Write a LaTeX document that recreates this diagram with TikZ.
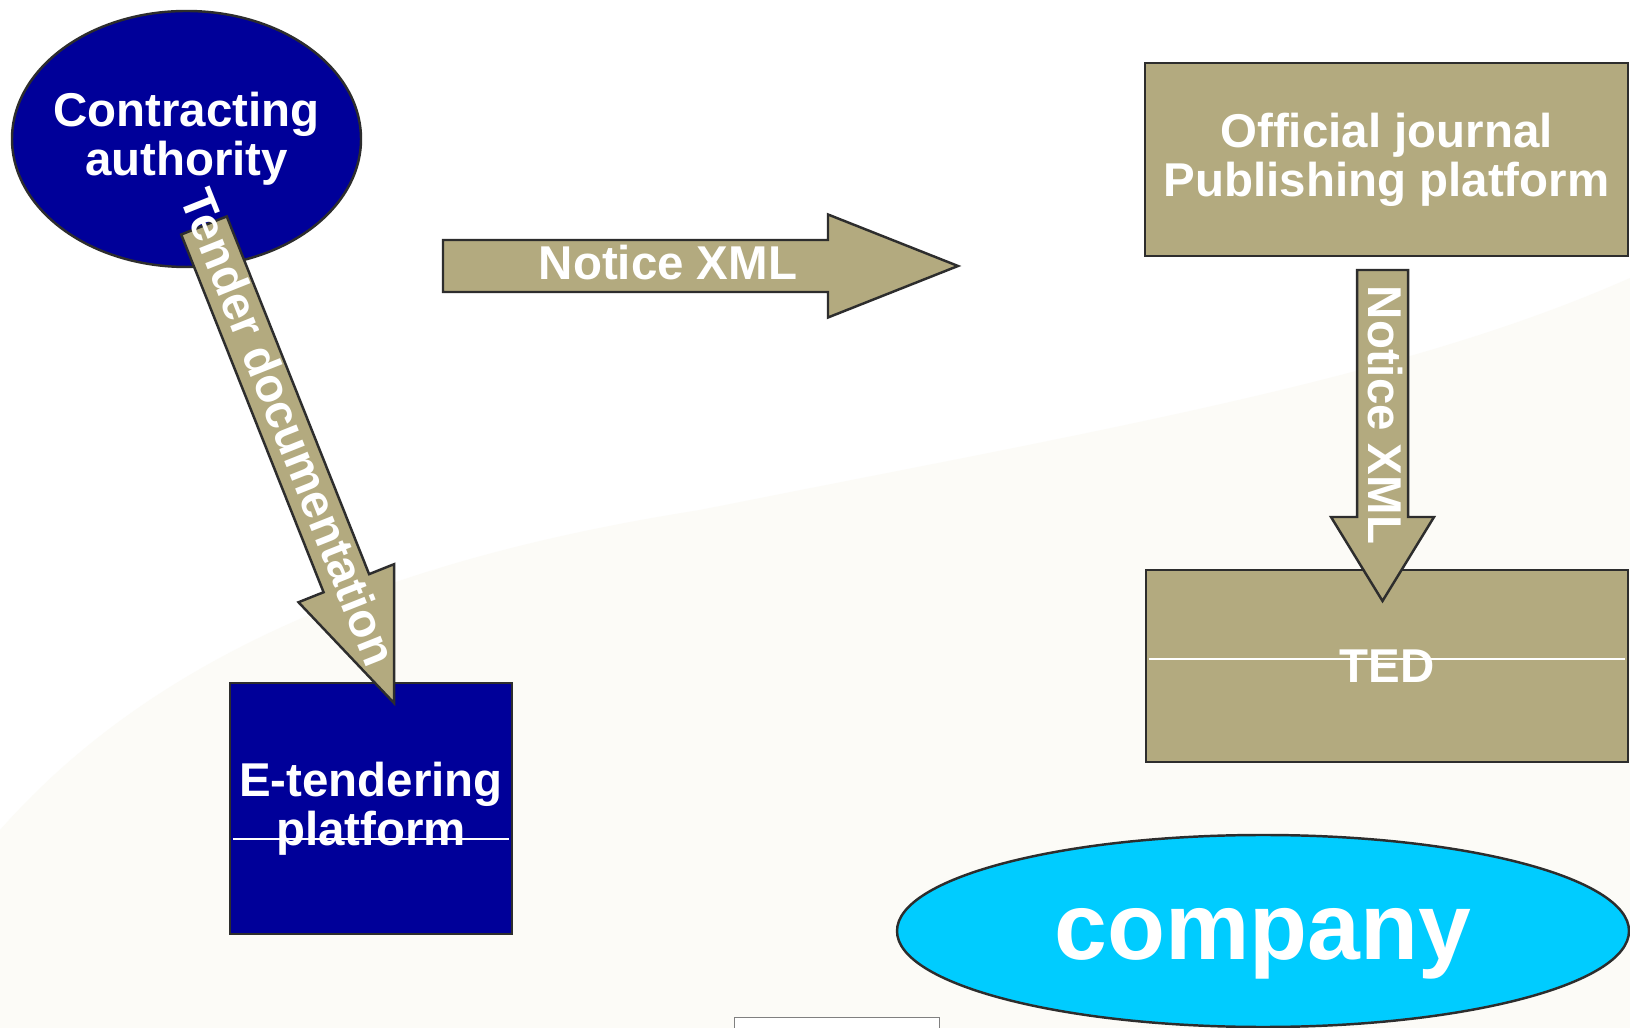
\documentclass[tikz,border=0pt]{standalone}
\usepackage{fontspec}
\setmainfont{Liberation Sans}
\usetikzlibrary{shapes.geometric}
\definecolor{navy}{RGB}{0,0,153}
\definecolor{khaki}{RGB}{179,170,127}
\definecolor{sky}{RGB}{0,204,255}
\definecolor{edge}{RGB}{45,45,45}
\definecolor{paper}{RGB}{252,251,247}
\begin{document}
\begin{tikzpicture}[x=0.1mm, y=-0.1mm,
    txt/.style={text=white, font=\fontsize{13.5}{13.9}\selectfont\bfseries, align=center, inner sep=0pt},
    block/.style={draw=edge, line width=0.7pt, inner sep=0pt},
    flow/.style={fill=khaki, draw=edge, line width=0.7pt},
    rule/.style={white, line width=0.3pt, shorten <=0.4mm, shorten >=0.4mm}]
    \useasboundingbox (0,0) rectangle (1630,1028);

    % background
    \fill[white] (0,0) rectangle (1630,1028);
    \fill[paper] (0,830) .. controls (150,660) and (380,560) .. (700,510)
        .. controls (1100,430) and (1400,380) .. (1630,278) -- (1630,1028) -- (0,1028) -- cycle;
    \node[draw=gray, fill=white, line width=0.4pt, minimum width=20.5mm, minimum height=3mm,
        anchor=north west, inner sep=0pt] (slide) at (734,1017) {};

    % parties and platforms
    \node[block, ellipse, fill=navy, minimum width=34.9mm, minimum height=25.6mm] (ca) at (186.5,139) {};
    \node[txt] (calabel) at (ca) {Contracting\\authority};
    \node[block, fill=khaki, minimum width=48.3mm, minimum height=19.3mm, txt] (ojs) at (1386.5,159.5) {Official journal\\Publishing platform};
    \node[block, fill=khaki, minimum width=48.2mm, minimum height=19.2mm, txt] (ted) at (1387,666) {TED};
    \node[block, fill=navy, minimum width=28.2mm, minimum height=25.1mm, txt] (etp) at (371,808.5) {E-tendering\\platform};
    \node[block, ellipse, fill=sky, minimum width=73.2mm, minimum height=19.2mm] (co) at (1263,931) {};
    \node[txt, font=\fontsize{27}{30}\selectfont\bfseries] (colabel) at (1263,944) {company};
    \draw[rule] ([yshift=0.7mm]ted.west) -- ([yshift=0.7mm]ted.east);
    \draw[rule] ([yshift=-3.05mm]etp.west) -- ([yshift=-3.05mm]etp.east);

    % Notice XML to the journal
    \begin{scope}[shift={(443,266)}]
    \draw[flow] (0,-26) -- (385,-26) -- (385,-51.5) -- (515,0) -- (385,51.5) -- (385,26) -- (0,26) -- cycle;
    \end{scope}
    \node[txt] (xml) at (668,263) {Notice XML};

    % tender documentation to the platform
    \begin{scope}[shift={(204,225.5)}, rotate=-68.3]
    \draw[flow] (0,-24.5) -- (385,-24.5) -- (385,-51.5) -- (514,0) -- (385,51.5) -- (385,24.5) -- (0,24.5) -- cycle;
    \end{scope}
    \node[txt, rotate=-68.3] (tdoc) at (289,427) {Tender documentation};

    % journal to TED
    \begin{scope}[shift={(1382.5,270)}, rotate=-90]
    \draw[flow] (0,-25.5) -- (247,-25.5) -- (247,-51.5) -- (331,0) -- (247,51.5) -- (247,25.5) -- (0,25.5) -- cycle;
    \end{scope}
    \node[txt, rotate=-90] (xmlted) at (1385,415) {Notice XML};
\end{tikzpicture}
\end{document}
